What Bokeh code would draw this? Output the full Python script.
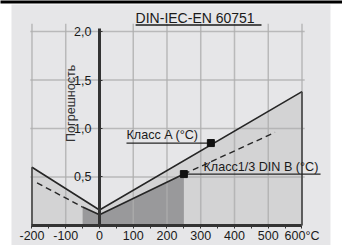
import numpy as np
from bokeh.plotting import figure
from bokeh.models import LinearAxis, FixedTicker, Range1d
from bokeh.core.properties import value
from bokeh.embed import file_html
from bokeh.resources import INLINE

# ---- data ----
x_ticks = [-200, -100, 0, 100, 200, 300, 400, 500, 600]
x_minor = [-150, -50, 50, 150, 250, 350, 450, 550]
x_tick_labels = ["-200", "-100", "0", "100", "200", "300", "400", "500", "600°C"]
y_ticks = [0.5, 1.0, 1.5, 2.0]
y_tick_labels = ["0,5", "1,0", "1,5", "2,0"]
grid_x = [-200, -100, 100, 200, 300, 400, 500, 600]

class_a_t = [-200, 0, 600]
class_a_v = [0.60, 0.16, 1.38]
din_b_t = [-50, 0, 250]
din_b_v = [0.19, 0.11, 0.53]
din_b_ext_left_t = [-185, -50]
din_b_ext_left_v = [0.44, 0.19]
din_b_ext_right_t = [250, 520]
din_b_ext_right_v = [0.53, 0.96]
marker_t = [330, 250]
marker_v = [0.85, 0.53]
series_labels = ["Класс A (°C)", "Класс1/3 DIN B (°C)"]
title_text = "DIN-IEC-EN 60751"
y_title = "Погрешность"

FONT = "Liberation Sans"
DARK = "#262626"

p = figure(width=342, height=245,
           x_range=Range1d(-293.3, 720.0), y_range=Range1d(-0.2062, 2.3196),
           output_backend="svg", toolbar_location=None,
           x_axis_type=None, y_axis_type=None,
           min_border=0, border_fill_color="white", background_fill_color="white",
           outline_line_color=None)

# panel background and top rule
p.quad(left=[-260.7], right=[684.4], bottom=[-0.3], top=[2.278],
       fill_color="#e6e6e8", line_color=None)
p.quad(left=[-300], right=[730], bottom=[2.289], top=[2.33],
       fill_color="black", line_color=None)

# fills
p.patch([class_a_t[0]] + class_a_t + [class_a_t[-1]], [0] + class_a_v + [0],
        fill_color="#d3d3d4", line_color=None)
p.patch([din_b_t[0]] + din_b_t + [din_b_t[-1]], [0] + din_b_v + [0],
        fill_color="#99999b", line_color=None)

# grid lines
p.segment(x0=grid_x, y0=[0] * len(grid_x), x1=grid_x, y1=[2.08] * len(grid_x),
          line_color="#aeaeae", line_width=1.5, line_alpha=0.8)
p.segment(x0=[-205] * len(y_ticks), y0=y_ticks, x1=[608] * len(y_ticks), y1=y_ticks,
          line_color="#aeaeae", line_width=1.5, line_alpha=0.8)

# curves
p.line(class_a_t, class_a_v, line_color=DARK, line_width=1.6)
p.segment(x0=[class_a_t[0], class_a_t[-1]], y0=[0, 0],
          x1=[class_a_t[0], class_a_t[-1]], y1=[class_a_v[0], class_a_v[-1]],
          line_color="#444444", line_width=1.6)
p.line(din_b_t, din_b_v, line_color=DARK, line_width=1.6)
p.line(din_b_ext_left_t, din_b_ext_left_v, line_color=DARK, line_width=1.4, line_dash="6 4")
p.line(din_b_ext_right_t, din_b_ext_right_v, line_color=DARK, line_width=1.4, line_dash="6 4")

# leaders, markers, labels
p.segment(x0=[80, marker_t[1]], y0=marker_v, x1=[marker_t[0], 655], y1=marker_v,
          line_color=DARK, line_width=1.3)
p.scatter(marker_t, marker_v, marker="square", size=7, color="#111111")
p.text(x=[80, 308], y=marker_v, text=series_labels, y_offset=[-8, -7],
       text_font=value(FONT), text_font_size="12.6px", text_color="#1a1a1a",
       text_align="left", text_baseline="alphabetic")

# title
p.text(x=[107], y=[2.088], text=[title_text], text_font=value(FONT), y_offset=-5,
       text_font_size="14px", text_color="#1a1a1a", text_align="left",
       text_baseline="alphabetic")
p.segment(x0=[107], y0=[2.067], x1=[480], y1=[2.067], line_color="#1a1a1a", line_width=1.3)

# y title
p.text(x=[-84], y=[1.26], text=[y_title], angle=np.pi / 2, text_font=value(FONT),
       text_font_size="12.6px", text_color="#333333", text_align="center",
       text_baseline="middle")

# axes
xaxis = LinearAxis(fixed_location=0, bounds=(-200, 600),
                   ticker=FixedTicker(ticks=x_ticks, minor_ticks=x_minor),
                   major_label_overrides=dict(zip(x_ticks, x_tick_labels)),
                   axis_line_color="#333333", axis_line_width=3,
                   major_tick_line_color="#333333", major_tick_in=0, major_tick_out=3,
                   minor_tick_line_color="#333333", minor_tick_in=0, minor_tick_out=3,
                   major_label_standoff=1,
                   major_label_text_font=FONT, major_label_text_font_size="12.5px",
                   major_label_text_color="#1a1a1a")
p.add_layout(xaxis, "below")

yaxis = LinearAxis(fixed_location=0, bounds=(0, 2.03),
                   ticker=FixedTicker(ticks=y_ticks, minor_ticks=[]),
                   major_label_overrides=dict(zip(y_ticks, y_tick_labels)),
                   axis_line_color="#333333", axis_line_width=3,
                   major_tick_line_color="#333333", major_tick_in=3, major_tick_out=0,
                   minor_tick_in=0, minor_tick_out=0,
                   major_label_standoff=8,
                   major_label_text_font=FONT, major_label_text_font_size="12.5px",
                   major_label_text_color="#1a1a1a")
p.add_layout(yaxis, "left")

open("out.html", "w").write(file_html(p, INLINE))
